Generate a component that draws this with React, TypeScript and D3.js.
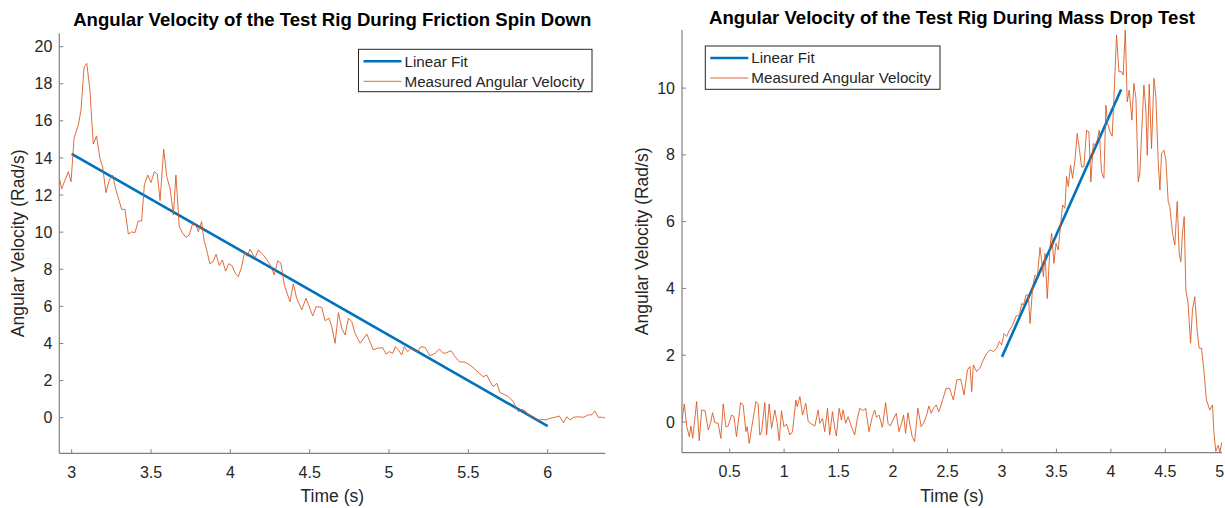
import React from "react";
import * as d3 from "d3";

// ---------- Left chart data (Friction spin down) ----------
const leftTime = [2.916,2.937,2.958,2.979,2.996,3.015,3.042,3.059,3.078,3.095,3.115,3.136,3.157,3.178,3.195,3.216,3.237,3.258,3.279,3.315,3.336,3.357,3.378,3.399,3.42,3.441,3.458,3.479,3.5,3.521,3.54,3.557,3.58,3.599,3.62,3.641,3.657,3.678,3.7,3.72,3.741,3.763,3.783,3.798,3.819,3.834,3.855,3.87,3.89,3.91,3.93,3.95,3.97,3.99,4.01,4.03,4.05,4.07,4.09,4.105,4.124,4.155,4.176,4.208,4.239,4.256,4.277,4.298,4.319,4.34,4.376,4.397,4.418,4.45,4.477,4.519,4.54,4.576,4.597,4.622,4.639,4.66,4.681,4.702,4.723,4.744,4.765,4.786,4.818,4.86,4.901,4.923,4.96,4.981,5.002,5.023,5.04,5.059,5.08,5.096,5.118,5.138,5.159,5.181,5.201,5.227,5.258,5.29,5.317,5.342,5.363,5.39,5.416,5.443,5.479,5.51,5.542,5.569,5.594,5.616,5.637,5.657,5.679,5.7,5.72,5.752,5.783,5.815,5.836,5.857,5.878,5.91,5.935,5.962,5.989,6.015,6.046,6.073,6.099,6.12,6.141,6.162,6.193,6.225,6.256,6.277,6.298,6.319,6.347,6.362];
const leftVel = [13.17,12.33,12.81,13.26,12.72,15.06,15.78,16.59,18.89,19.1,17.67,14.75,15.19,13.98,13.53,12.13,12.81,13.08,12.28,11.23,11.23,9.9,10.01,9.98,10.6,10.6,12.54,13.08,12.67,13.26,13.12,11.7,14.47,12.99,12.37,10.93,13.08,10.3,9.94,9.72,9.85,10.48,10.39,10.03,10.57,9.58,8.9,8.3,8.4,8.8,8.2,8.5,7.9,8.3,8.2,7.8,7.6,8.1,8.9,8.7,9.08,8.59,9.04,8.77,8.41,8.14,7.69,8.46,8.32,7.15,6.25,7.21,6.44,5.81,6.44,5.48,5.98,5.95,5.23,5.36,4.91,4.01,5.66,4.82,4.46,5.36,5.18,4.55,4.01,4.51,3.65,3.74,3.77,3.43,3.56,3.47,3.83,3.65,3.38,3.83,3.56,3.74,3.61,3.56,3.83,3.79,3.33,3.47,3.7,3.47,3.5,3.61,3.29,3.02,2.99,2.84,2.61,2.39,2.21,2.3,1.94,1.67,1.85,1.35,1.28,1.13,0.86,0.32,0.45,0.38,0.15,0.05,-0.16,-0.09,-0.12,-0.03,0.02,0.09,-0.27,0.05,-0.12,0.02,0.05,0.02,0.15,0.15,0.36,0.02,0.02,-0.03];
const leftFitTime = [3.0, 6.0];
const leftFitVel = [14.22, -0.45];
const leftXTicks = [3, 3.5, 4, 4.5, 5, 5.5, 6];
const leftYTicks = [0, 2, 4, 6, 8, 10, 12, 14, 16, 18, 20];

// ---------- Right chart data (Mass drop test) ----------
const rightTime = [0.06,0.084,0.106,0.13,0.144,0.161,0.197,0.221,0.243,0.274,0.304,0.325,0.343,0.364,0.395,0.419,0.441,0.465,0.487,0.517,0.539,0.563,0.6,0.624,0.649,0.661,0.68,0.701,0.741,0.762,0.777,0.793,0.823,0.839,0.863,0.885,0.915,0.937,0.955,0.976,0.998,1.022,1.053,1.077,1.108,1.12,1.145,1.169,1.199,1.221,1.251,1.282,1.312,1.328,1.352,1.373,1.398,1.419,1.444,1.465,1.48,1.505,1.526,1.541,1.566,1.587,1.618,1.648,1.67,1.694,1.725,1.749,1.779,1.81,1.831,1.847,1.871,1.902,1.932,1.954,1.975,1.999,2.03,2.054,2.076,2.097,2.115,2.137,2.158,2.176,2.198,2.228,2.258,2.28,2.304,2.329,2.35,2.371,2.396,2.42,2.432,2.487,2.518,2.554,2.585,2.622,2.652,2.683,2.707,2.722,2.737,2.768,2.798,2.829,2.86,2.891,2.921,2.952,2.976,2.998,3.019,3.043,3.068,3.098,3.129,3.16,3.181,3.197,3.221,3.242,3.258,3.282,3.303,3.325,3.349,3.364,3.38,3.395,3.416,3.441,3.456,3.477,3.496,3.517,3.538,3.557,3.578,3.593,3.609,3.63,3.648,3.67,3.691,3.71,3.731,3.752,3.777,3.798,3.816,3.838,3.856,3.875,3.893,3.914,3.936,3.954,3.97,3.991,4.012,4.031,4.052,4.074,4.098,4.113,4.132,4.15,4.168,4.193,4.211,4.23,4.251,4.266,4.282,4.303,4.321,4.334,4.352,4.373,4.395,4.413,4.434,4.45,4.465,4.486,4.505,4.526,4.541,4.566,4.587,4.609,4.627,4.642,4.657,4.673,4.688,4.709,4.731,4.749,4.77,4.792,4.81,4.832,4.853,4.877,4.908,4.933,4.945,4.963,4.985,5.0,5.02];
const rightVel = [0.01,0.54,-0.14,-0.44,-0.12,-0.49,0.61,-0.56,0.36,0.34,-0.24,-0.02,0.28,-0.02,-0.04,-0.49,0.54,-0.14,-0.12,0.21,0.16,-0.44,0.58,0.51,-0.29,-0.14,-0.64,-0.19,0.61,0.54,-0.39,-0.29,0.58,-0.39,0.54,-0.19,0.36,-0.04,-0.56,0.34,-0.14,-0.06,-0.39,-0.29,0.66,0.46,0.76,0.21,0.56,0.01,-0.06,-0.12,0.36,-0.04,0.11,-0.29,0.41,-0.39,0.31,-0.19,-0.42,0.41,0.06,0.36,-0.04,0.16,-0.14,-0.39,0.06,0.41,0.34,0.41,-0.29,0.16,0.36,0.14,0.21,-0.16,0.58,-0.04,-0.12,0.06,0.26,-0.29,-0.06,0.21,-0.34,0.28,-0.14,-0.44,-0.59,0.41,-0.14,-0.04,0.16,0.48,0.26,0.41,0.51,0.31,0.41,1.01,1.01,0.66,1.26,1.28,0.81,1.56,1.66,0.91,1.71,1.51,1.61,1.86,2.06,2.16,2.11,2.21,2.41,2.31,2.65,2.56,2.75,2.9,3.17,3.2,3.55,3.5,3.8,3.8,2.95,4.05,4.4,4.35,5.23,4.85,4.35,5.05,3.7,5.25,5.65,4.75,5.35,5.15,5.9,6.5,6.4,7.35,7.05,7.69,7.3,7.84,8.64,8.19,7.64,7.64,8.74,8.69,7.19,8.34,8.29,8.44,8.74,7.49,7.3,9.49,8.94,8.69,8.56,9.94,11.59,10.49,10.49,10.39,11.76,9.59,9.94,9.04,10.14,9.69,7.19,7.45,8.64,10.09,9.34,7.99,10.12,8.19,10.29,9.74,7.84,6.95,8.04,8.14,7.84,6.6,6.45,5.65,5.3,6.6,5.05,4.8,5.65,6.15,3.95,3.55,2.36,3.35,3.75,2.75,2.21,2.21,1.56,0.66,0.36,0.51,-0.29,-0.88,-0.7,-0.9,-0.6];
const rightFitTime = [3.0, 4.094];
const rightFitVel = [1.95, 9.96];
const rightXTicks = [0.5, 1, 1.5, 2, 2.5, 3, 3.5, 4, 4.5, 5];
const rightYTicks = [0, 2, 4, 6, 8, 10];

const FONT = "'Liberation Sans', Arial, Helvetica, sans-serif";
const TEXT = "#262626";
const AXIS = "#808080";
const BLUE = "#0072BD";
const ORANGE = "#D95319";

type PanelProps = {
  id: string;
  x0: number; x1: number; y0: number; y1: number;
  xDomain: [number, number]; yDomain: [number, number];
  xTicks: number[]; yTicks: number[];
  time: number[]; vel: number[];
  fitTime: number[]; fitVel: number[];
  title: string;
  titleY: number;
  yLabelX: number;
  legend: { x: number; y: number; w: number; h: number };
};

function Panel(p: PanelProps) {
  const xs = d3.scaleLinear().domain(p.xDomain).range([p.x0, p.x1]);
  const ys = d3.scaleLinear().domain(p.yDomain).range([p.y1, p.y0]);
  const line = d3.line<number>().x((_, i) => xs(p.time[i])).y((d) => ys(d));
  const fit = d3.line<number>().x((_, i) => xs(p.fitTime[i])).y((d) => ys(d));
  const cx = (p.x0 + p.x1) / 2;
  const cy = (p.y0 + p.y1) / 2;
  const fmt = (v: number) => String(v);
  const L = p.legend;
  return (
    <g>
      <defs>
        <clipPath id={p.id}>
          <rect x={p.x0} y={p.y0} width={p.x1 - p.x0} height={p.y1 - p.y0} />
        </clipPath>
      </defs>
      <g clipPath={`url(#${p.id})`}>
        <path d={fit(p.fitVel) || ""} fill="none" stroke={BLUE} strokeWidth={2.6} />
        <path d={line(p.vel) || ""} fill="none" stroke={ORANGE} strokeWidth={1} strokeOpacity={0.85} strokeLinejoin="round" />
      </g>
      {/* axes */}
      <line x1={p.x0} x2={p.x1} y1={p.y1} y2={p.y1} stroke={AXIS} strokeWidth={1.2} />
      <line x1={p.x0} x2={p.x0} y1={p.y0} y2={p.y1} stroke={AXIS} strokeWidth={1.2} />
      {p.xTicks.map((t) => (
        <g key={"xt" + t}>
          <line x1={xs(t)} x2={xs(t)} y1={p.y1} y2={p.y1 - 4} stroke={AXIS} strokeWidth={1} />
          <text x={xs(t)} y={p.y1 + 19} dy="0.35em" textAnchor="middle" fontSize={16} fill={TEXT} fontFamily={FONT}>{fmt(t)}</text>
        </g>
      ))}
      {p.yTicks.map((t) => (
        <g key={"yt" + t}>
          <line x1={p.x0} x2={p.x0 + 4} y1={ys(t)} y2={ys(t)} stroke={AXIS} strokeWidth={1} />
          <text x={p.x0 - 7} y={ys(t)} dy="0.35em" textAnchor="end" fontSize={16} fill={TEXT} fontFamily={FONT}>{fmt(t)}</text>
        </g>
      ))}
      <text x={cx} y={p.y1 + 43} dy="0.35em" textAnchor="middle" fontSize={17.5} fill={TEXT} fontFamily={FONT}>Time (s)</text>
      <text transform={`translate(${p.yLabelX},${cy}) rotate(-90)`} dy="0.35em" textAnchor="middle" fontSize={17.5} fill={TEXT} fontFamily={FONT}>Angular Velocity (Rad/s)</text>
      <text x={cx} y={p.titleY} dy="0.35em" textAnchor="middle" fontSize={18.6} fontWeight="bold" fill="#000" fontFamily={FONT}>{p.title}</text>
      {/* legend */}
      <rect x={L.x} y={L.y} width={L.w} height={L.h} fill="#fff" stroke="#262626" strokeWidth={1} />
      <line x1={L.x + 5} x2={L.x + 43} y1={L.y + 12} y2={L.y + 12} stroke={BLUE} strokeWidth={2.6} />
      <text x={L.x + 46} y={L.y + 12} dy="0.35em" fontSize={15.2} fill={TEXT} fontFamily={FONT}>Linear Fit</text>
      <line x1={L.x + 5} x2={L.x + 43} y1={L.y + 32} y2={L.y + 32} stroke={ORANGE} strokeWidth={1} strokeOpacity={0.85} />
      <text x={L.x + 46} y={L.y + 32} dy="0.35em" fontSize={15.2} fill={TEXT} fontFamily={FONT}>Measured Angular Velocity</text>
    </g>
  );
}

export default function App() {
  return (
    <svg width={1225} height={508} style={{ position: "absolute", left: 0, top: 0, background: "#fff" }}>
      <rect x={0} y={0} width={1225} height={508} fill="#fff" />
      <Panel
        id="clipL"
        x0={59.3} x1={605.3} y0={33.3} y1={453.3}
        xDomain={[2.922, 6.363]} yDomain={[-1.92, 20.72]}
        xTicks={leftXTicks} yTicks={leftYTicks}
        time={leftTime} vel={leftVel}
        fitTime={leftFitTime} fitVel={leftFitVel}
        title="Angular Velocity of the Test Rig During Friction Spin Down"
        titleY={19}
        yLabelX={18}
        legend={{ x: 358.5, y: 49.3, w: 233.5, h: 42.4 }}
      />
      <Panel
        id="clipR"
        x0={682} x1={1222} y0={30} y1={452.7}
        xDomain={[0.0625, 5.02]} yDomain={[-0.92, 11.74]}
        xTicks={rightXTicks} yTicks={rightYTicks}
        time={rightTime} vel={rightVel}
        fitTime={rightFitTime} fitVel={rightFitVel}
        title="Angular Velocity of the Test Rig During Mass Drop Test"
        titleY={17}
        yLabelX={641.7}
        legend={{ x: 705.3, y: 46, w: 234.7, h: 43.3 }}
      />
    </svg>
  );
}
